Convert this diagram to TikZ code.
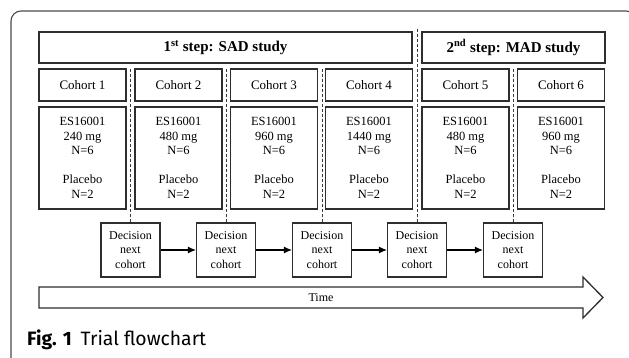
\documentclass[tikz,border=0pt]{standalone}
\usepackage{fontspec}
\usepackage{graphicx}
\setmainfont{Liberation Serif}
\newfontfamily\capfont{Fira Sans}
\usetikzlibrary{arrows.meta}
\definecolor{boxline}{HTML}{2E2E2E}
\definecolor{dashline}{HTML}{3A3A3A}
\definecolor{frameline}{HTML}{4A4A4A}
\tikzset{
  box/.style={draw=boxline, line width=1.3pt, inner sep=0pt, align=center, fill=white},
  titlebox/.style={box, minimum height=31pt, font=\fontsize{15}{17}\selectfont\bfseries},
  cohortbox/.style={box, minimum width=87pt, minimum height=32pt, font=\fontsize{13}{15}\selectfont},
  dosebox/.style={box, minimum width=87pt, minimum height=102pt, font=\fontsize{12.5}{14.5}\selectfont},
  decbox/.style={box, line width=1.1pt, minimum width=59pt, minimum height=54pt, font=\fontsize{12}{14.5}\selectfont},
  sep/.style={draw=dashline, line width=1pt, dash pattern=on 3pt off 2pt},
  flow/.style={draw=black, line width=1.1pt, -{Latex[length=8pt,width=7pt]}},
  captext/.style={anchor=base west, inner sep=0pt},
}
\begin{document}
\begin{tikzpicture}[x=1pt,y=-1pt]
\useasboundingbox (0,0) rectangle (629,358);
% outer frame
\draw[frameline, line width=1.1pt, rounded corners=10pt] (11,370) -- (11,11) -- (636,11) -- (636,60);

% titles
\node[titlebox, minimum width=373pt] (sad) at (225.5,47.5) {1\textsuperscript{st} step: SAD study};
\node[titlebox, minimum width=183pt] (mad) at (513.5,47.5) {2\textsuperscript{nd} step: MAD study};

% cohorts
\node[cohortbox] (c1) at (82.5,85) {Cohort 1};
\node[cohortbox] (c2) at (178.5,85) {Cohort 2};
\node[cohortbox] (c3) at (274,85) {Cohort 3};
\node[cohortbox] (c4) at (369,85) {Cohort 4};
\node[cohortbox] (c5) at (465.5,85) {Cohort 5};
\node[cohortbox] (c6) at (561,85) {Cohort 6};

% doses
\node[dosebox] (d1) at (82.5,158) {ES16001\\240 mg\\N=6\\[14.5pt]Placebo\\N=2};
\node[dosebox] (d2) at (178.5,158) {ES16001\\480 mg\\N=6\\[14.5pt]Placebo\\N=2};
\node[dosebox] (d3) at (274,158) {ES16001\\960 mg\\N=6\\[14.5pt]Placebo\\N=2};
\node[dosebox] (d4) at (369,158) {ES16001\\1440 mg\\N=6\\[14.5pt]Placebo\\N=2};
\node[dosebox] (d5) at (465.5,158) {ES16001\\480 mg\\N=6\\[14.5pt]Placebo\\N=2};
\node[dosebox] (d6) at (561,158) {ES16001\\960 mg\\N=6\\[14.5pt]Placebo\\N=2};

% decision boxes
\node[decbox] (k1) at (130.5,250) {Decision\\next\\cohort};
\node[decbox] (k2) at (226,250) {Decision\\next\\cohort};
\node[decbox] (k3) at (322,250) {Decision\\next\\cohort};
\node[decbox] (k4) at (417,250) {Decision\\next\\cohort};
\node[decbox] (k5) at (513,250) {Decision\\next\\cohort};

% dashed separators
\coordinate (s1) at (130.5,69);
\coordinate (s2) at (226,69);
\coordinate (s3) at (322,69);
\coordinate (s4) at (417,29);
\coordinate (s5) at (513,69);
\draw[sep] (s1) -- (k1.north);
\draw[sep] (s2) -- (k2.north);
\draw[sep] (s3) -- (k3.north);
\draw[sep] (s4) -- (k4.north);
\draw[sep] (s5) -- (k5.north);

% flow arrows
\draw[flow] (k1) -- (k2);
\draw[flow] (k2) -- (k3);
\draw[flow] (k3) -- (k4);
\draw[flow] (k4) -- (k5);

% time arrow
\draw[boxline, line width=1.3pt, fill=white, line join=miter]
  (39,287) -- (583,287) -- (583,277) -- (603,297.5) -- (583,318) -- (583,308) -- (39,308) -- cycle;
\node[font=\fontsize{12}{14}\selectfont] (time) at (321,297.5) {Time};

% caption
\node[captext] (cap) at (27,345.5) {\resizebox{179pt}{!}{\capfont\textbf{Fig. 1}\hspace{0.45em}Trial flowchart}};
\end{tikzpicture}
\end{document}
